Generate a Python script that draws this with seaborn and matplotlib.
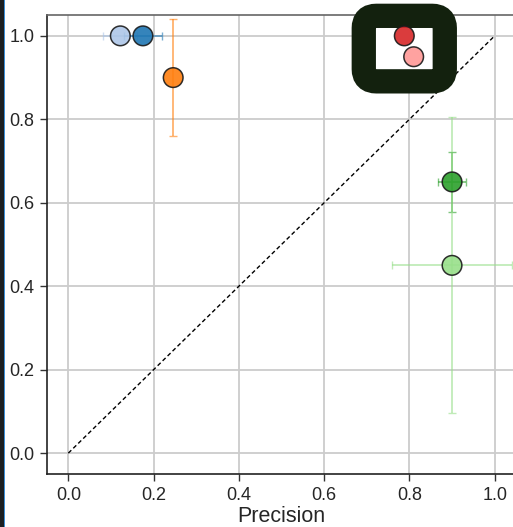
import matplotlib
matplotlib.use("Agg")
import matplotlib.pyplot as plt
import seaborn as sns
import pandas as pd
from matplotlib.patches import FancyBboxPatch, Rectangle

sns.set_theme(style="whitegrid")
plt.rcParams['font.family'] = ['Liberation Sans', 'DejaVu Sans']

labels = ["a1", "a2", "b", "c1", "c2", "d1", "d2"]
precision = [0.122, 0.175, 0.246, 0.788, 0.810, 0.900, 0.900]
recall = [1.000, 1.000, 0.900, 1.000, 0.950, 0.650, 0.450]
prec_err = [0.040, 0.045, 0.000, 0.066, 0.000, 0.033, 0.141]
rec_err = [0.000, 0.000, 0.140, 0.000, 0.050, 0.071, 0.355]
colors = ["#aec7e8", "#1f77b4", "#ff7f0e", "#d62728", "#ff9896", "#2ca02c", "#98df8a"]

df = pd.DataFrame({"label": labels, "precision": precision, "recall": recall,
                   "perr": prec_err, "rerr": rec_err})

fig = plt.figure(figsize=(5.13, 5.27), dpi=100)
ax = fig.add_axes([47/513, 1-474/527, (516-47)/513, (474-15)/527])

for i, r in df.iterrows():
    ax.errorbar(r["precision"], r["recall"], xerr=r["perr"] if r["perr"] > 0 else None,
                yerr=r["rerr"] if r["rerr"] > 0 else None, fmt="none",
                ecolor=colors[i], alpha=0.6, elinewidth=1.3, capsize=3, zorder=3)

sns.scatterplot(data=df, x="precision", y="recall", hue="label", palette=colors,
                s=200, edgecolor="#1a1a1a", linewidth=1.1, alpha=0.9, legend=False,
                ax=ax, zorder=5)

ax.plot([0, 1], [0, 1], ls="--", color="black", lw=1.0, dashes=(3, 2), zorder=4)

ax.set_xlim(-0.05, 1.05)
ax.set_ylim(-0.05, 1.05)
ax.set_xticks([0.0, 0.2, 0.4, 0.6, 0.8, 1.0])
ax.set_yticks([0.0, 0.2, 0.4, 0.6, 0.8, 1.0])
ax.set_xticklabels(["0.0", "0.2", "0.4", "0.6", "0.8", "1.0"])
ax.set_yticklabels(["0.0", "0.2", "0.4", "0.6", "0.8", "1.0"])
ax.set_xlabel("Precision", fontsize=15.5, labelpad=2)
ax.set_ylabel("")
ax.tick_params(axis="both", labelsize=13, length=5, width=1, color="#333333",
               left=True, bottom=True, pad=4)
ax.grid(True, color="#cccccc", lw=1.3)
for s in ["left", "bottom"]:
    ax.spines[s].set_color("#222222")
    ax.spines[s].set_linewidth(1.2)
ax.spines["top"].set_color("#666666")
ax.spines["top"].set_linewidth(1.2)
ax.spines["right"].set_visible(False)

# highlight box around red points (data coords)
box = FancyBboxPatch((0.693, 0.891), 0.883-0.693, 1.048-0.891,
                     boxstyle="round,pad=0,rounding_size=0.03",
                     facecolor="white", edgecolor="#13210e", linewidth=17.5,
                     clip_on=False, zorder=4.5)
ax.add_patch(box)

# left screen strip
fig.patches.append(Rectangle((0, 0), 3.5/513, 1, transform=fig.transFigure,
                             facecolor="#1b1f22", edgecolor="none"))
fig.patches.append(Rectangle((3.5/513, 0), 1.5/513, 1, transform=fig.transFigure,
                             facecolor="#3b8fd9", edgecolor="none"))

fig.savefig("out.png", dpi=100)
